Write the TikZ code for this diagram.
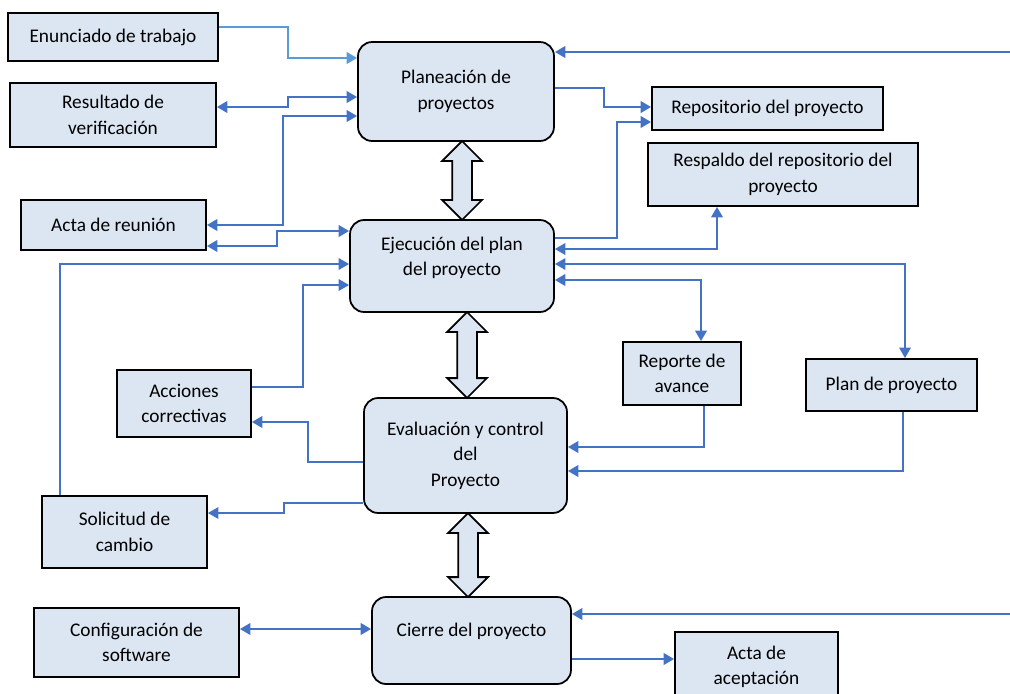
\documentclass[tikz,border=0pt]{standalone}
\usepackage{fontspec}
\setmainfont{Carlito}
\usetikzlibrary{arrows.meta,shapes.arrows}
\definecolor{boxfill}{HTML}{DCE6F2}
\definecolor{linkblue}{HTML}{4472C4}
\definecolor{lightlink}{HTML}{5B9BD5}
\tikzset{
  >={Triangle[length=6pt,width=6.5pt]},
  txt/.style={font=\fontsize{11}{14.6}\selectfont, align=center, inner sep=2pt},
  item/.style={txt, draw, line width=1pt, fill=boxfill},
  phase/.style={item, rounded corners=8pt},
  flow/.style={draw=linkblue, line width=1.6pt},
  thinflow/.style={draw=linkblue, line width=1.1pt},
  bigarrow/.style={double arrow, draw, line width=1pt, fill=boxfill, rotate=90,
    inner sep=0.18cm, minimum width=0.76cm, double arrow head extend=0.2cm}
}
\begin{document}
\begin{tikzpicture}[x=0.02cm,y=-0.02cm]
\useasboundingbox[fill=white] (0,0) rectangle (1010,693);
% fases
\node[phase, minimum width=3.92cm, minimum height=1.98cm] (plan) at (456,91.5) {Planeación de\\proyectos};
\node[phase, minimum width=4.08cm, minimum height=1.84cm, text depth=11pt] (ejec) at (452,266) {Ejecución del plan\\del proyecto};
\node[phase, minimum width=4.06cm, minimum height=2.3cm] (eval) at (465.5,455.5) {Evaluación y control\\del\\Proyecto};
\node[phase, minimum width=3.98cm, minimum height=1.74cm, text depth=12.5pt] (cierre) at (471.5,640.5) {Cierre del proyecto};
% productos
\node[item, minimum width=4.2cm, minimum height=0.96cm] (enun) at (113,37) {Enunciado de trabajo};
\node[item, minimum width=4.12cm, minimum height=1.28cm] (resul) at (113,115) {Resultado de\\verificación};
\node[item, minimum width=3.7cm, minimum height=1cm] (actar) at (113.5,225) {Acta de reunión};
\node[item, minimum width=4.62cm, minimum height=0.86cm] (repo) at (767.5,108.5) {Repositorio del proyecto};
\node[item, minimum width=5.4cm, minimum height=1.26cm] (resp) at (783,174.5) {Respaldo del repositorio del\\proyecto};
\node[item, minimum width=2.68cm, minimum height=1.34cm] (acc) at (184,403.5) {Acciones\\correctivas};
\node[item, minimum width=2.36cm, minimum height=1.26cm] (repav) at (682,373.5) {Reporte de\\avance};
\node[item, minimum width=3.42cm, minimum height=1.04cm] (plpr) at (891.5,385) {Plan de proyecto};
\node[item, minimum width=3.3cm, minimum height=1.44cm] (sol) at (124.5,532) {Solicitud de\\cambio};
\node[item, minimum width=4.1cm, minimum height=1.38cm] (conf) at (136.5,642.5) {Configuración de\\software};
\node[item, minimum width=3.26cm, minimum height=1.4cm] (acept) at (756.5,667) {Acta de\\aceptación};
% flechas entre fases
\node[bigarrow, minimum height=1.58cm] (f1) at (462,180.5) {};
\node[bigarrow, minimum height=1.72cm] (f2) at (467,355) {};
\node[bigarrow, minimum height=1.68cm] (f3) at (468,555) {};
% extremos libres
\coordinate (edgetop) at (1010,52);
\coordinate (edgebot) at (1010,614);
% conexiones
\draw[flow,draw=lightlink,->] (enun.east |- 0,27) -| (288,58) -- (plan.west |- 0,58);
\draw[flow,<->] (resul.east |- 0,107) -| (288,97) -- (plan.west |- 0,97);
\draw[flow,<->] (actar.east |- 0,225) -| (283,116) -- (plan.west |- 0,116);
\draw[flow,<->] (actar.east |- 0,246) -| (277,231) -- (ejec.west |- 0,231);
\draw[thinflow,->] (sol.north -| 60,0) |- (ejec.west |- 0,264);
\draw[thinflow,->] (acc.east |- 0,387) -| (303,285) -- (ejec.west |- 0,285);
\draw[flow,->] (eval.west |- 0,462) -| (308,422) -- (acc.east |- 0,422);
\draw[thinflow,->] (eval.west |- 0,503) -| (284,513) -- (sol.east |- 0,513);
\draw[flow,<->] (conf.east |- 0,629) -- (cierre.west |- 0,629);
\draw[flow,->] (cierre.east |- 0,659) -- (acept.west |- 0,659);
\draw[flow,->] (edgebot) -- (cierre.east |- edgebot);
\draw[flow,->] (edgetop) -- (plan.east |- edgetop);
\draw[flow,->] (plan.east |- 0,88) -| (604,107) -- (repo.west |- 0,107);
\draw[flow,->] (ejec.east |- 0,238) -| (617,122) -- (repo.west |- 0,122);
\draw[flow,<->] (ejec.east |- 0,249) -| (resp.south -| 717,0);
\draw[thinflow,<->] (ejec.east |- 0,264) -| (plpr.north -| 905,0);
\draw[flow,<->] (ejec.east |- 0,280) -| (repav.north -| 701,0);
\draw[flow,->] (repav.south -| 704,0) |- (eval.east |- 0,447);
\draw[flow,->] (plpr.south -| 903,0) |- (eval.east |- 0,471);
\end{tikzpicture}
\end{document}
